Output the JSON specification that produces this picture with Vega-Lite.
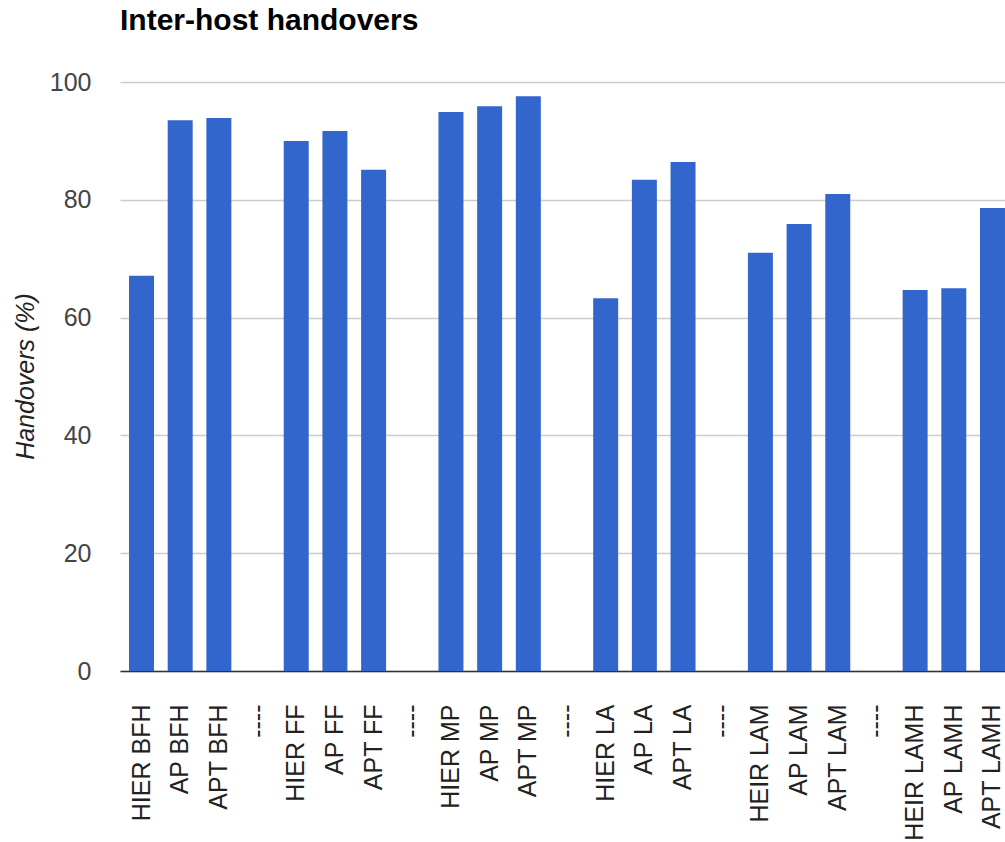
{
  "$schema": "https://vega.github.io/schema/vega-lite/v6.json",
  "autosize": "none",
  "width": 894,
  "height": 589,
  "padding": {"left": 120, "top": 82, "right": 0, "bottom": 171},
  "background": "white",
  "title": {
    "text": "Inter-host handovers",
    "anchor": "start",
    "frame": "group",
    "font": "Liberation Sans",
    "fontSize": 30,
    "fontWeight": "bold",
    "color": "#000000",
    "baseline": "alphabetic",
    "offset": 10
  },
  "data": {
    "values": [
      {"key": "HIER BFH", "value": 67.1},
      {"key": "AP BFH", "value": 93.5},
      {"key": "APT BFH", "value": 93.9},
      {"key": "sep1", "value": 0},
      {"key": "HIER FF", "value": 90.0},
      {"key": "AP FF", "value": 91.7},
      {"key": "APT FF", "value": 85.1},
      {"key": "sep2", "value": 0},
      {"key": "HIER MP", "value": 94.9},
      {"key": "AP MP", "value": 95.9},
      {"key": "APT MP", "value": 97.6},
      {"key": "sep3", "value": 0},
      {"key": "HIER LA", "value": 63.3},
      {"key": "AP LA", "value": 83.4},
      {"key": "APT LA", "value": 86.4},
      {"key": "sep4", "value": 0},
      {"key": "HEIR LAM", "value": 71.0},
      {"key": "AP LAM", "value": 75.9},
      {"key": "APT LAM", "value": 81.0},
      {"key": "sep5", "value": 0},
      {"key": "HEIR LAMH", "value": 64.7},
      {"key": "AP LAMH", "value": 65.0},
      {"key": "APT LAMH", "value": 78.6}
    ]
  },
  "mark": {"type": "bar", "color": "#3366cc"},
  "encoding": {
    "x": {
      "field": "key",
      "type": "nominal",
      "sort": null,
      "scale": {"paddingInner": 0.354, "paddingOuter": 0.233},
      "axis": {
        "title": null,
        "labelAngle": -90,
        "labelAlign": "right",
        "labelBaseline": "middle",
        "labelPadding": 33,
        "labelFont": "Liberation Sans",
        "labelFontSize": 25,
        "labelColor": "#222222",
        "labelExpr": "indexof(datum.label, 'sep') == 0 ? '----' : datum.label",
        "ticks": false,
        "domainColor": "#333333",
        "domainWidth": 1.5,
        "grid": false
      }
    },
    "y": {
      "field": "value",
      "type": "quantitative",
      "scale": {"domain": [0, 100], "nice": false},
      "axis": {
        "title": "Handovers (%)",
        "titleFont": "Liberation Sans",
        "titleFontSize": 25,
        "titleFontStyle": "italic",
        "titleFontWeight": "normal",
        "titleColor": "#222222",
        "titleAngle": -90,
        "titleX": -95,
        "titleY": 294,
        "titleAlign": "center",
        "titleBaseline": "middle",
        "values": [0, 20, 40, 60, 80, 100],
        "labelFont": "Liberation Sans",
        "labelFontSize": 25,
        "labelColor": "#444444",
        "labelPadding": 29,
        "ticks": false,
        "domain": false,
        "grid": true,
        "gridColor": "#cccccc",
        "gridWidth": 1.5
      }
    }
  },
  "config": {"view": {"stroke": null}}
}
